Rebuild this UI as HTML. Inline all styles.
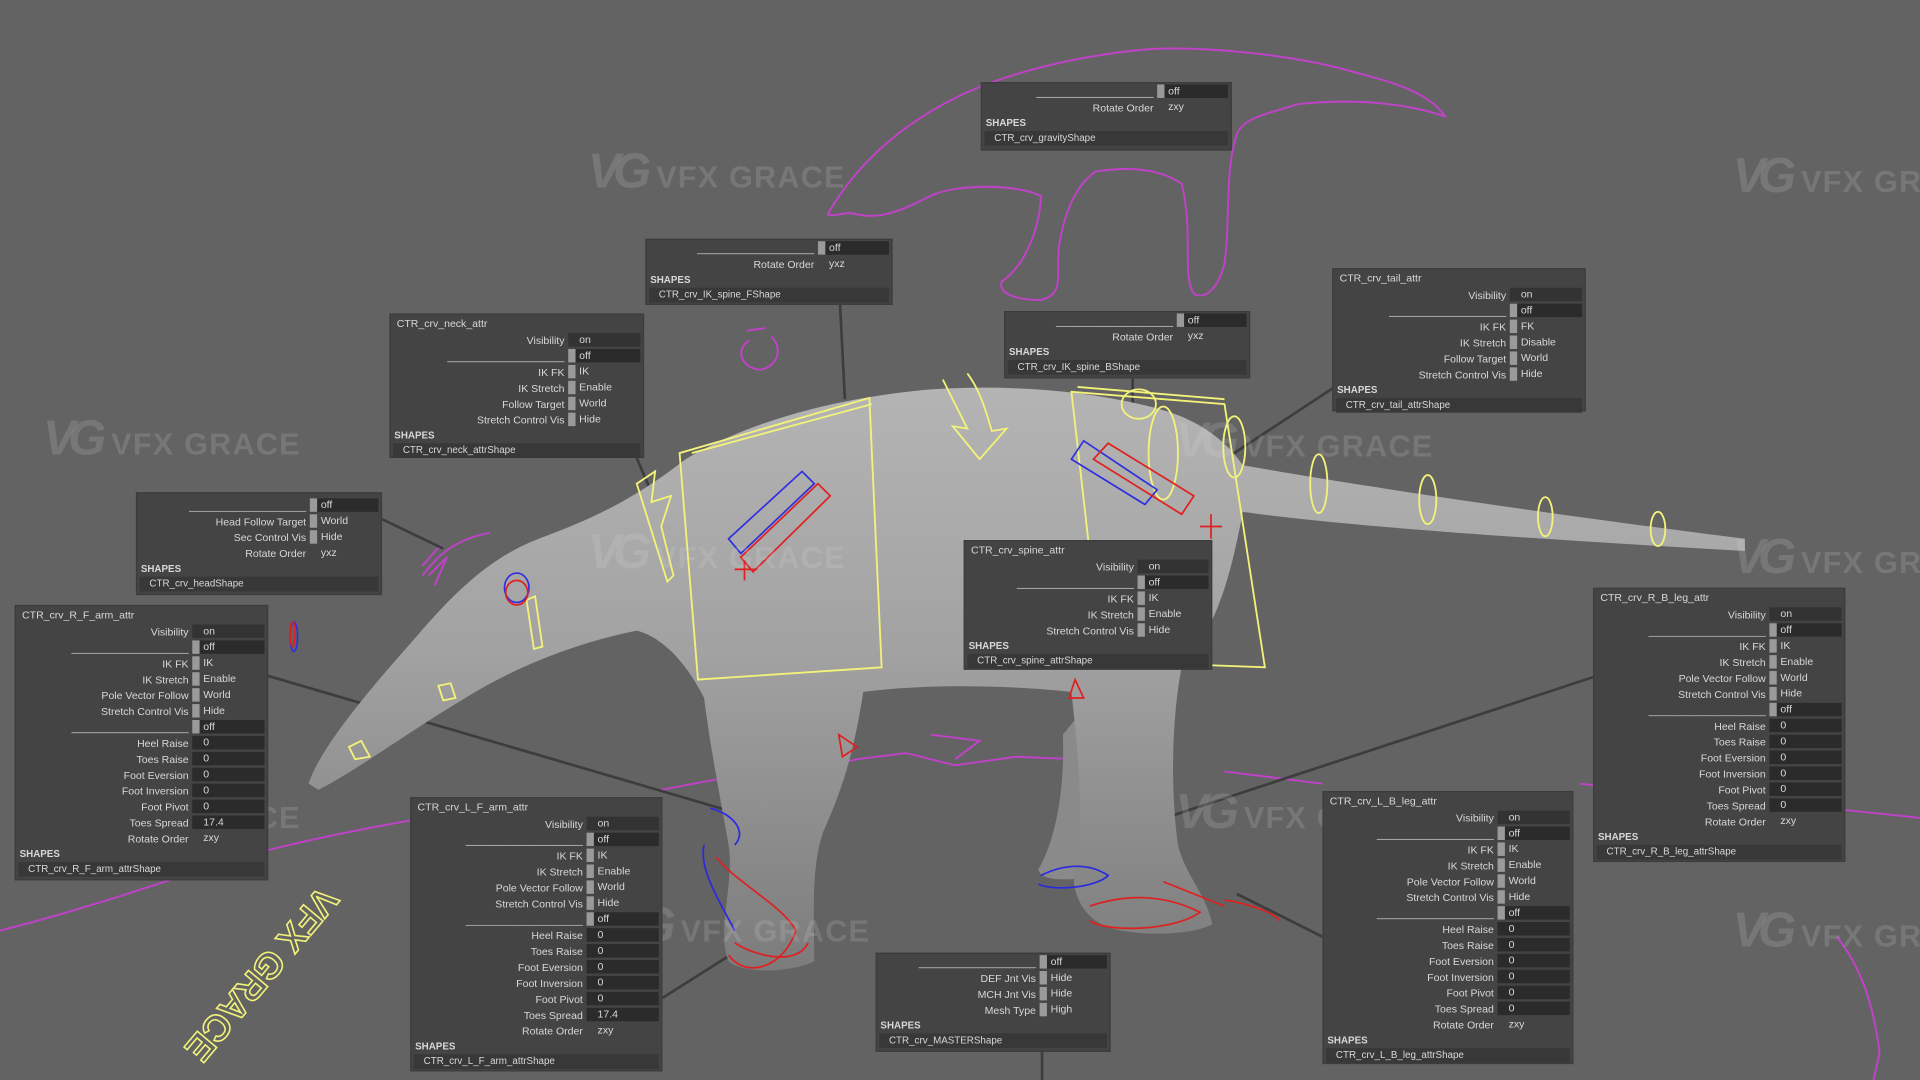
<!DOCTYPE html>
<html><head><meta charset="utf-8"><style>
html,body{margin:0;padding:0;width:1920px;height:1080px;overflow:hidden;background:#636363}
#w{position:absolute;left:0;top:0;width:1568px;height:882px;overflow:hidden;transform:scale(1.22449);transform-origin:0 0;background:#636363;font-family:"Liberation Sans",sans-serif}
svg{position:absolute;left:0;top:0}
.p{position:absolute;background:#444;border:1px solid #3c3c3c;color:#d8d8d8;font-size:8.6px;box-sizing:border-box;padding-top:1px}
.t{height:13px;line-height:13px;padding-left:5px}
.r{height:13px;display:flex;align-items:center}
.l{text-align:right;padding-right:3px;box-sizing:border-box;white-space:nowrap;overflow:hidden}
.v{flex:1;height:11px;line-height:11px;margin-right:2px;position:relative;padding-left:9px}
.d{background:#2b2b2b}
.k::before{content:"";position:absolute;left:0;top:0;width:6px;height:11px;background:#9a9a9a}
.n2{background:#333}
.s{height:13px;line-height:14px;padding-left:3px;font-weight:bold;font-size:8px}
.n{height:12px;line-height:12px;background:#383838;margin:0 2px 2px 2px;padding-left:8px;font-size:8px}
.wm{position:absolute;color:rgba(225,225,225,0.16);font-weight:bold;font-size:25px;letter-spacing:1px;white-space:nowrap}
.wm b{font-size:40px;font-style:italic;margin-right:10px;letter-spacing:-6px}
</style></head><body><div id="w">
<svg width="1568" height="882" viewBox="0 0 1568 882">
<defs>
<linearGradient id="g" x1="0" y1="0" x2="0" y2="1"><stop offset="0" stop-color="#b4b4b4"/><stop offset="0.45" stop-color="#a2a2a2"/><stop offset="1" stop-color="#7c7c7c"/></linearGradient>
</defs>
<g fill="none" stroke="#c042c8" stroke-width="1.6">
<path d="M676,175 C690,150 720,110 780,80 C820,60 880,45 940,40 C990,38 1060,45 1110,60 C1150,70 1170,80 1180,95 C1150,85 1110,80 1060,85 C1040,92 1015,95 1010,110 C1000,140 1005,180 1000,215 C995,235 985,245 975,240 C965,225 975,190 965,150 C950,140 930,135 895,140 C880,150 870,170 865,200 C862,225 870,240 850,245 C830,245 815,240 818,230 C840,215 850,180 850,160 C830,150 780,150 760,160 C740,170 720,180 700,175 C690,172 680,178 676,175Z"/>
<path d="M612,278 C600,285 605,300 620,302 C635,300 640,285 630,275 M610,270 L625,268"/>
<path d="M0,760 C60,745 120,725 180,705 C230,690 280,680 335,670"/>
<path d="M1290,640 C1380,650 1480,658 1568,668"/>
<path d="M1500,765 C1520,790 1530,820 1535,860 L1530,882"/>
<path d="M540,645 L620,630 L650,632 L700,620 L740,615 L780,625 L830,618 L880,620" />
<path d="M760,600 L800,605 L780,620"/>
<path d="M1000,630 L1080,640"/>
<path d="M345,470 C360,450 375,440 400,435 M350,470 L365,455 L355,478 M345,462 L360,445"/>
</g>
<g stroke="#3d3d3d" stroke-width="2.2" fill="none">
<line x1="686" y1="248" x2="690" y2="326"/>
<line x1="925" y1="308" x2="925" y2="442"/>
<line x1="1090" y1="316" x2="1005" y2="372"/>
<line x1="520" y1="374" x2="548" y2="440"/>
<line x1="312" y1="424" x2="362" y2="448"/>
<line x1="219" y1="552" x2="595" y2="662"/>
<line x1="1301" y1="553" x2="915" y2="680"/>
<line x1="541" y1="815" x2="612" y2="770"/>
<line x1="1080" y1="765" x2="1010" y2="730"/>
<line x1="851" y1="858" x2="851" y2="882"/>
</g>
<path fill="#8a8a8a" d="M900,560 C905,620 900,680 905,715 C880,718 850,722 848,710 C860,690 870,650 868,600Z"/>
<path fill="url(#g)" d="M252,640 C262,610 300,565 340,520 C370,485 400,455 440,440 C480,425 515,410 560,375 C610,345 680,325 760,318 C820,314 890,318 950,335 C985,345 1005,365 1015,380 C1100,395 1250,418 1425,440 L1425,450 C1250,440 1100,430 1015,418 C1005,470 995,510 965,545 C958,580 955,640 962,690 C968,715 985,730 990,755 C970,765 920,765 900,755 C880,745 872,720 880,700 C885,660 880,610 875,565 C830,560 760,558 705,565 C698,610 690,640 672,680 C662,710 665,750 665,785 C645,795 605,795 595,785 C585,760 600,720 595,690 C588,650 580,610 575,570 C560,540 540,520 520,515 C470,525 420,545 380,570 C330,600 290,630 260,645Z"/>
<g fill="none" stroke="#f2f27a" stroke-width="1.5">
<path d="M555,370 L710,325 L720,545 L570,555 Z M565,370 L712,330"/>
<path d="M875,320 L1000,330 L1033,545 L900,540 Z M880,316 L1000,326"/>
<path d="M520,395 L535,385 L532,410 L548,405 L540,430 L550,470 L545,475 Z"/>
<path d="M770,310 C780,330 785,340 790,350 L778,348 L800,375 L822,350 L810,352 C805,335 800,318 790,305"/>
<ellipse cx="950" cy="370" rx="12" ry="38"/><ellipse cx="930" cy="330" rx="14" ry="12"/>
<ellipse cx="1008" cy="365" rx="9" ry="25"/>
<ellipse cx="1077" cy="395" rx="7" ry="24"/>
<ellipse cx="1166" cy="408" rx="7" ry="20"/>
<ellipse cx="1262" cy="422" rx="6" ry="16"/>
<ellipse cx="1354" cy="432" rx="6" ry="14"/>
<path d="M430,490 L437,487 L443,528 L436,530Z"/>
<path d="M358,560 L368,558 L372,570 L362,572Z"/>
<path d="M285,610 L295,605 L302,618 L290,620Z"/>
</g>
<g fill="none" stroke-width="1.4">
<path stroke="#3030e0" d="M595,440 L655,385 L665,395 L605,452Z"/>
<path stroke="#e02020" d="M605,455 L668,395 L678,405 L615,467Z"/>
<path stroke="#3030e0" d="M875,375 L885,360 L945,400 L935,412Z"/>
<path stroke="#e02020" d="M893,375 L905,362 L975,405 L965,420Z"/>
<path stroke="#e02020" d="M980,430 L998,430 M989,420 L989,440 M600,465 L618,465 M608,458 L608,474"/>
<ellipse cx="422" cy="480" rx="10" ry="12" stroke="#3030e0"/><ellipse cx="422" cy="484" rx="9" ry="10" stroke="#e02020"/>
<ellipse cx="240" cy="520" rx="3" ry="12" stroke="#3030e0"/><ellipse cx="239" cy="518" rx="2" ry="10" stroke="#e02020"/>
<path stroke="#e02020" d="M685,600 L700,610 L688,618Z M878,555 L885,570 L873,570Z"/>
<path stroke="#e02020" d="M585,700 C600,720 640,740 650,760 C640,790 610,800 595,780 M600,770 C615,780 650,790 660,770"/>
<path stroke="#2a2ae0" d="M575,690 C570,710 590,740 600,760 M580,660 C600,665 610,680 600,690"/>
<path stroke="#2a2ae0" d="M850,715 C870,705 890,705 905,715 C895,725 860,728 848,722"/>
<path stroke="#e02020" d="M890,740 C920,730 950,730 980,745 C960,760 905,762 890,752 M950,720 L1000,740"/>
<path stroke="#e02020" d="M1000,735 C1020,738 1040,745 1045,752"/>
</g>
<text transform="translate(262,722) rotate(130)" font-family="Liberation Sans" font-weight="bold" font-size="30" fill="none" stroke="#f2f27a" stroke-width="1.3">VFX GRACE</text>
</svg>
<div class="wm" style="left:480px;top:118px"><b>VG</b>VFX GRACE</div>
<div class="wm" style="left:1415px;top:122px"><b>VG</b>VFX GRACE</div>
<div class="wm" style="left:35px;top:336px"><b>VG</b>VFX GRACE</div>
<div class="wm" style="left:960px;top:338px"><b>VG</b>VFX GRACE</div>
<div class="wm" style="left:480px;top:429px"><b>VG</b>VFX GRACE</div>
<div class="wm" style="left:1415px;top:433px"><b>VG</b>VFX GRACE</div>
<div class="wm" style="left:35px;top:641px"><b>VG</b>VFX GRACE</div>
<div class="wm" style="left:960px;top:641px"><b>VG</b>VFX GRACE</div>
<div class="wm" style="left:500px;top:734px"><b>VG</b>VFX GRACE</div>
<div class="wm" style="left:1415px;top:738px"><b>VG</b>VFX GRACE</div>

<div class="p" style="left:801px;top:67px;width:205px;height:56px;padding-top:0">
<div class="r"><div class="l" style="width:143px">____________________</div><div class="v d k">off</div></div>
<div class="r"><div class="l" style="width:143px">Rotate Order</div><div class="v">zxy</div></div>
<div class="s">SHAPES</div><div class="n">CTR_crv_gravityShape</div></div>

<div class="p" style="left:527px;top:195px;width:202px;height:54px;padding-top:0">
<div class="r"><div class="l" style="width:140px">____________________</div><div class="v d k">off</div></div>
<div class="r"><div class="l" style="width:140px">Rotate Order</div><div class="v">yxz</div></div>
<div class="s">SHAPES</div><div class="n">CTR_crv_IK_spine_FShape</div></div>

<div class="p" style="left:820px;top:254px;width:201px;height:55px;padding-top:0">
<div class="r"><div class="l" style="width:140px">____________________</div><div class="v d k">off</div></div>
<div class="r"><div class="l" style="width:140px">Rotate Order</div><div class="v">yxz</div></div>
<div class="s">SHAPES</div><div class="n">CTR_crv_IK_spine_BShape</div></div>

<div class="p" style="left:1088px;top:219px;width:207px;height:117px">
<div class="t">CTR_crv_tail_attr</div>
<div class="r"><div class="l" style="width:144px">Visibility</div><div class="v n2">on</div></div>
<div class="r"><div class="l" style="width:144px">____________________</div><div class="v d k">off</div></div>
<div class="r"><div class="l" style="width:144px">IK FK</div><div class="v k">FK</div></div>
<div class="r"><div class="l" style="width:144px">IK Stretch</div><div class="v k">Disable</div></div>
<div class="r"><div class="l" style="width:144px">Follow Target</div><div class="v k">World</div></div>
<div class="r"><div class="l" style="width:144px">Stretch Control Vis</div><div class="v k">Hide</div></div>
<div class="s">SHAPES</div><div class="n">CTR_crv_tail_attrShape</div></div>

<div class="p" style="left:318px;top:256px;width:208px;height:118px">
<div class="t">CTR_crv_neck_attr</div>
<div class="r"><div class="l" style="width:145px">Visibility</div><div class="v n2">on</div></div>
<div class="r"><div class="l" style="width:145px">____________________</div><div class="v d k">off</div></div>
<div class="r"><div class="l" style="width:145px">IK FK</div><div class="v k">IK</div></div>
<div class="r"><div class="l" style="width:145px">IK Stretch</div><div class="v k">Enable</div></div>
<div class="r"><div class="l" style="width:145px">Follow Target</div><div class="v k">World</div></div>
<div class="r"><div class="l" style="width:145px">Stretch Control Vis</div><div class="v k">Hide</div></div>
<div class="s">SHAPES</div><div class="n">CTR_crv_neck_attrShape</div></div>

<div class="p" style="left:111px;top:402px;width:201px;height:84px;padding-top:3px">
<div class="r"><div class="l" style="width:141px">____________________</div><div class="v d k">off</div></div>
<div class="r"><div class="l" style="width:141px">Head Follow Target</div><div class="v k">World</div></div>
<div class="r"><div class="l" style="width:141px">Sec Control Vis</div><div class="v k">Hide</div></div>
<div class="r"><div class="l" style="width:141px">Rotate Order</div><div class="v">yxz</div></div>
<div class="s">SHAPES</div><div class="n">CTR_crv_headShape</div></div>

<div class="p" style="left:787px;top:441px;width:203px;height:106px">
<div class="t">CTR_crv_spine_attr</div>
<div class="r"><div class="l" style="width:141px">Visibility</div><div class="v n2">on</div></div>
<div class="r"><div class="l" style="width:141px">____________________</div><div class="v d k">off</div></div>
<div class="r"><div class="l" style="width:141px">IK FK</div><div class="v k">IK</div></div>
<div class="r"><div class="l" style="width:141px">IK Stretch</div><div class="v k">Enable</div></div>
<div class="r"><div class="l" style="width:141px">Stretch Control Vis</div><div class="v k">Hide</div></div>
<div class="s">SHAPES</div><div class="n">CTR_crv_spine_attrShape</div></div>

<div class="p" style="left:12px;top:494px;width:207px;height:225px">
<div class="t">CTR_crv_R_F_arm_attr</div>
<div class="r"><div class="l" style="width:144px">Visibility</div><div class="v n2">on</div></div>
<div class="r"><div class="l" style="width:144px">____________________</div><div class="v d k">off</div></div>
<div class="r"><div class="l" style="width:144px">IK FK</div><div class="v k">IK</div></div>
<div class="r"><div class="l" style="width:144px">IK Stretch</div><div class="v k">Enable</div></div>
<div class="r"><div class="l" style="width:144px">Pole Vector Follow</div><div class="v k">World</div></div>
<div class="r"><div class="l" style="width:144px">Stretch Control Vis</div><div class="v k">Hide</div></div>
<div class="r"><div class="l" style="width:144px">____________________</div><div class="v d k">off</div></div>
<div class="r"><div class="l" style="width:144px">Heel Raise</div><div class="v d">0</div></div>
<div class="r"><div class="l" style="width:144px">Toes Raise</div><div class="v d">0</div></div>
<div class="r"><div class="l" style="width:144px">Foot Eversion</div><div class="v d">0</div></div>
<div class="r"><div class="l" style="width:144px">Foot Inversion</div><div class="v d">0</div></div>
<div class="r"><div class="l" style="width:144px">Foot Pivot</div><div class="v d">0</div></div>
<div class="r"><div class="l" style="width:144px">Toes Spread</div><div class="v d">17.4</div></div>
<div class="r"><div class="l" style="width:144px">Rotate Order</div><div class="v">zxy</div></div>
<div class="s">SHAPES</div><div class="n">CTR_crv_R_F_arm_attrShape</div></div>

<div class="p" style="left:1301px;top:480px;width:206px;height:224px">
<div class="t">CTR_crv_R_B_leg_attr</div>
<div class="r"><div class="l" style="width:143px">Visibility</div><div class="v n2">on</div></div>
<div class="r"><div class="l" style="width:143px">____________________</div><div class="v d k">off</div></div>
<div class="r"><div class="l" style="width:143px">IK FK</div><div class="v k">IK</div></div>
<div class="r"><div class="l" style="width:143px">IK Stretch</div><div class="v k">Enable</div></div>
<div class="r"><div class="l" style="width:143px">Pole Vector Follow</div><div class="v k">World</div></div>
<div class="r"><div class="l" style="width:143px">Stretch Control Vis</div><div class="v k">Hide</div></div>
<div class="r"><div class="l" style="width:143px">____________________</div><div class="v d k">off</div></div>
<div class="r"><div class="l" style="width:143px">Heel Raise</div><div class="v d">0</div></div>
<div class="r"><div class="l" style="width:143px">Toes Raise</div><div class="v d">0</div></div>
<div class="r"><div class="l" style="width:143px">Foot Eversion</div><div class="v d">0</div></div>
<div class="r"><div class="l" style="width:143px">Foot Inversion</div><div class="v d">0</div></div>
<div class="r"><div class="l" style="width:143px">Foot Pivot</div><div class="v d">0</div></div>
<div class="r"><div class="l" style="width:143px">Toes Spread</div><div class="v d">0</div></div>
<div class="r"><div class="l" style="width:143px">Rotate Order</div><div class="v">zxy</div></div>
<div class="s">SHAPES</div><div class="n">CTR_crv_R_B_leg_attrShape</div></div>

<div class="p" style="left:335px;top:651px;width:206px;height:224px">
<div class="t">CTR_crv_L_F_arm_attr</div>
<div class="r"><div class="l" style="width:143px">Visibility</div><div class="v n2">on</div></div>
<div class="r"><div class="l" style="width:143px">____________________</div><div class="v d k">off</div></div>
<div class="r"><div class="l" style="width:143px">IK FK</div><div class="v k">IK</div></div>
<div class="r"><div class="l" style="width:143px">IK Stretch</div><div class="v k">Enable</div></div>
<div class="r"><div class="l" style="width:143px">Pole Vector Follow</div><div class="v k">World</div></div>
<div class="r"><div class="l" style="width:143px">Stretch Control Vis</div><div class="v k">Hide</div></div>
<div class="r"><div class="l" style="width:143px">____________________</div><div class="v d k">off</div></div>
<div class="r"><div class="l" style="width:143px">Heel Raise</div><div class="v d">0</div></div>
<div class="r"><div class="l" style="width:143px">Toes Raise</div><div class="v d">0</div></div>
<div class="r"><div class="l" style="width:143px">Foot Eversion</div><div class="v d">0</div></div>
<div class="r"><div class="l" style="width:143px">Foot Inversion</div><div class="v d">0</div></div>
<div class="r"><div class="l" style="width:143px">Foot Pivot</div><div class="v d">0</div></div>
<div class="r"><div class="l" style="width:143px">Toes Spread</div><div class="v d">17.4</div></div>
<div class="r"><div class="l" style="width:143px">Rotate Order</div><div class="v">zxy</div></div>
<div class="s">SHAPES</div><div class="n">CTR_crv_L_F_arm_attrShape</div></div>

<div class="p" style="left:1080px;top:646px;width:205px;height:223px">
<div class="t">CTR_crv_L_B_leg_attr</div>
<div class="r"><div class="l" style="width:142px">Visibility</div><div class="v n2">on</div></div>
<div class="r"><div class="l" style="width:142px">____________________</div><div class="v d k">off</div></div>
<div class="r"><div class="l" style="width:142px">IK FK</div><div class="v k">IK</div></div>
<div class="r"><div class="l" style="width:142px">IK Stretch</div><div class="v k">Enable</div></div>
<div class="r"><div class="l" style="width:142px">Pole Vector Follow</div><div class="v k">World</div></div>
<div class="r"><div class="l" style="width:142px">Stretch Control Vis</div><div class="v k">Hide</div></div>
<div class="r"><div class="l" style="width:142px">____________________</div><div class="v d k">off</div></div>
<div class="r"><div class="l" style="width:142px">Heel Raise</div><div class="v d">0</div></div>
<div class="r"><div class="l" style="width:142px">Toes Raise</div><div class="v d">0</div></div>
<div class="r"><div class="l" style="width:142px">Foot Eversion</div><div class="v d">0</div></div>
<div class="r"><div class="l" style="width:142px">Foot Inversion</div><div class="v d">0</div></div>
<div class="r"><div class="l" style="width:142px">Foot Pivot</div><div class="v d">0</div></div>
<div class="r"><div class="l" style="width:142px">Toes Spread</div><div class="v d">0</div></div>
<div class="r"><div class="l" style="width:142px">Rotate Order</div><div class="v">zxy</div></div>
<div class="s">SHAPES</div><div class="n">CTR_crv_L_B_leg_attrShape</div></div>

<div class="p" style="left:715px;top:778px;width:192px;height:81px;padding-top:0">
<div class="r"><div class="l" style="width:133px">____________________</div><div class="v d k">off</div></div>
<div class="r"><div class="l" style="width:133px">DEF Jnt Vis</div><div class="v k">Hide</div></div>
<div class="r"><div class="l" style="width:133px">MCH Jnt Vis</div><div class="v k">Hide</div></div>
<div class="r"><div class="l" style="width:133px">Mesh Type</div><div class="v k">High</div></div>
<div class="s">SHAPES</div><div class="n">CTR_crv_MASTERShape</div></div>
</div></body></html>
